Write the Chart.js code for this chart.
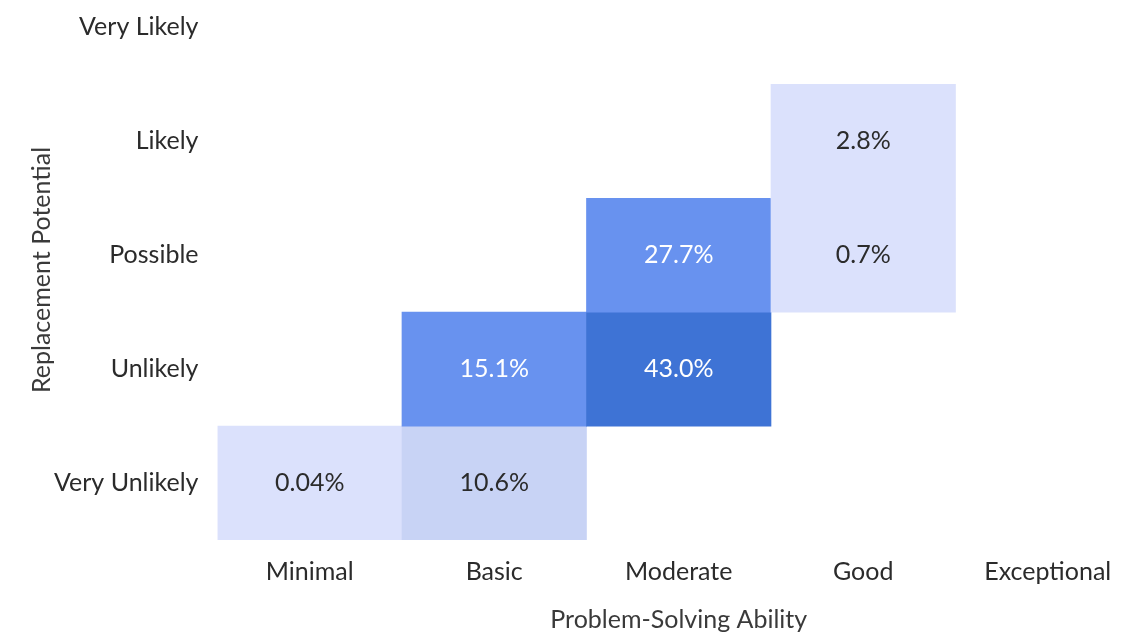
<!DOCTYPE html>
<html>
<head>
<meta charset="utf-8">
<script src="https://cdn.jsdelivr.net/npm/chart.js@4"></script>
<style>
  html, body { margin: 0; padding: 0; background: #fff; }
  #wrap { width: 1140px; height: 632px; }
</style>
</head>
<body>
<div id="wrap"><canvas id="heatChart"></canvas></div>
<script>
// axis categories
const abilities = ['Minimal', 'Basic', 'Moderate', 'Good', 'Exceptional'];
const potentials = ['Very Unlikely', 'Unlikely', 'Possible', 'Likely', 'Very Likely'];

// filled cells (share of jobs, %)
const cellAbility   = ['Minimal', 'Basic', 'Basic', 'Moderate', 'Moderate', 'Good', 'Good'];
const cellPotential = ['Very Unlikely', 'Very Unlikely', 'Unlikely', 'Unlikely', 'Possible', 'Possible', 'Likely'];
const cellShare     = [0.04, 10.6, 15.1, 43.0, 27.7, 0.7, 2.8];
const cellText      = ['0.04%', '10.6%', '15.1%', '43.0%', '27.7%', '0.7%', '2.8%'];

// binned colour scale
function cellColor(v) {
  if (v >= 40) return '#3e73d5';
  if (v >= 15) return '#6892ef';
  if (v >= 10) return '#c8d3f5';
  return '#dbe1fc';
}
function textColor(v) {
  return v >= 15 ? '#ffffff' : '#2b2b2b';
}

const cells = cellShare.map((v, i) => {
  const row = potentials.indexOf(cellPotential[i]);
  return { x: cellAbility[i], y: [row - 0.5, row + 0.5] };
});

// write the percentage in the middle of each cell
const cellLabels = {
  id: 'cellLabels',
  afterDatasetsDraw(chart) {
    const ctx = chart.ctx;
    const meta = chart.getDatasetMeta(0);
    ctx.save();
    ctx.font = '25px Lato';
    ctx.textAlign = 'center';
    ctx.textBaseline = 'middle';
    meta.data.forEach((bar, i) => {
      ctx.fillStyle = textColor(cellShare[i]);
      ctx.fillText(cellText[i], bar.x, (bar.y + bar.base) / 2);
    });
    ctx.restore();
  }
};

const ctx = document.getElementById('heatChart').getContext('2d');
const heatChart = new Chart(ctx, {
  type: 'bar',
  data: {
    labels: abilities,
    datasets: [{
      data: cells,
      backgroundColor: cellShare.map(cellColor),
      borderWidth: 0,
      categoryPercentage: 1,
      barPercentage: 1,
      grouped: false
    }]
  },
  options: {
    responsive: true,
    maintainAspectRatio: false,
    animation: false,
    layout: { padding: { left: 27, right: 0, top: 0, bottom: 0 } },
    plugins: {
      legend: { display: false },
      tooltip: { enabled: false }
    },
    scales: {
      x: {
        type: 'category',
        offset: true,
        afterFit: (axis) => {
          axis.height -= 18;
        },
        grid: { display: false, drawTicks: false },
        border: { display: false },
        ticks: { color: '#2b2b2b', font: { family: 'Lato', size: 25 }, padding: 17 },
        title: {
          display: true,
          text: 'Problem-Solving Ability',
          color: '#3a3a3a',
          font: { family: 'Lato', size: 25, lineHeight: 1 },
          padding: { top: 21, bottom: 0 }
        }
      },
      y: {
        type: 'linear',
        min: -0.5,
        max: 4.24,
        afterBuildTicks: (axis) => {
          axis.ticks = potentials.map((p, i) => ({ value: i }));
        },
        afterFit: (axis) => {
          axis.paddingTop = 0;
          axis.paddingBottom = 0;
          axis.width -= 22;
        },
        grid: { display: false, drawTicks: false },
        border: { display: false },
        ticks: {
          color: '#2b2b2b',
          font: { family: 'Lato', size: 25 },
          padding: 19,
          callback: (value) => potentials[value]
        },
        title: {
          display: true,
          text: 'Replacement Potential',
          color: '#3a3a3a',
          font: { family: 'Lato', size: 25, lineHeight: 1.2 },
          padding: { top: 0, bottom: 0 }
        }
      }
    }
  },
  plugins: [cellLabels]
});
</script>
</body>
</html>
